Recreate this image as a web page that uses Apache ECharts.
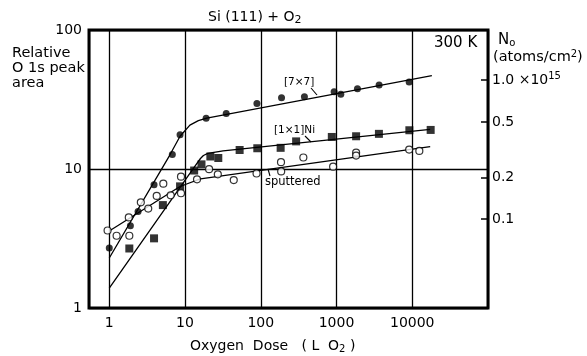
<!DOCTYPE html>
<html><head><meta charset="utf-8">
<script src="https://cdn.jsdelivr.net/npm/echarts@6/dist/echarts.min.js"></script>
<style>html,body{margin:0;padding:0;background:#fff}#c{width:587px;height:356px}</style>
</head><body><div id="c"></div>
<script>
// ---- tick labels ----
const xTickValues = [1, 10, 100, 1000, 10000];
const yTickValues = [1, 10, 100];
const nTickValues = [0.1, 0.2, 0.5, 1.0];
const areaPerN = 43.5; // relative area that corresponds to N0 = 1.0e15 atoms/cm2

// ---- [7x7] (filled circles) ----
const dose7 = [1, 1.9, 2.4, 3.9, 6.8, 8.6, 19, 35, 89, 188, 377, 930, 1140, 1890, 3650, 9100];
const area7 = [2.7, 3.9, 4.95, 7.7, 12.7, 17.6, 23.2, 25.1, 29.6, 32.6, 33.1, 36.0, 34.5, 37.8, 40.2, 42.3];

// ---- [1x1]Ni (filled squares) ----
const dose1 = [1.84, 3.9, 5.1, 8.6, 13.2, 16.5, 21.6, 27.5, 52.6, 90, 183, 293, 867, 1815, 3630, 9160, 17500];
const area1 = [2.68, 3.17, 5.5, 7.5, 9.75, 10.8, 12.3, 12.0, 13.7, 14.1, 14.2, 15.8, 17.0, 17.2, 17.9, 19.0, 19.1];

// ---- sputtered (open circles) ----
const doseS = [0.95, 1.25, 1.84, 1.81, 2.61, 3.27, 4.23, 5.17, 6.47, 8.85, 8.85, 14.4, 20.8, 27.1, 44, 88, 185, 186, 365, 902, 1815, 1815, 9100, 12400];
const areaS = [3.61, 3.31, 3.31, 4.48, 5.76, 5.19, 6.40, 7.84, 6.47, 6.69, 8.80, 8.43, 9.97, 9.16, 8.33, 9.28, 11.2, 9.6, 12.1, 10.4, 13.1, 12.5, 13.8, 13.5];

// ---- fitted curves ----
const fit7Dose = [1, 6.3, 8.6, 11.6, 15, 19.4, 18150];
const fit7Area = [2.29, 12.6, 17.2, 20.7, 22.3, 23.2, 46.9];
const fit1Dose = [1, 12.9, 16, 17.5, 20, 31.8, 17250];
const fit1Area = [1.39, 10.1, 11.9, 12.5, 12.95, 13.5, 19.3];
const fitSDose = [1, 8.6, 10.5, 16, 17250];
const fitSArea = [3.58, 7.48, 7.8, 8.5, 14.5];

const zip = (a, b) => a.map((v, i) => [v, b[i]]);
const FONT = 'DejaVu Sans';
const isPow10 = v => { const l = Math.log10(v); return Math.abs(l - Math.round(l)) < 1e-6; };

const chart = echarts.init(document.getElementById('c'), null, {renderer: 'canvas'});
const lineS = {color: '#000', width: 1.3};
chart.setOption({
  animation: false,
  backgroundColor: '#fff',
  grid: {left: 89, right: 99, top: 30, bottom: 48, show: true, borderColor: '#000', borderWidth: 3, backgroundColor: 'transparent'},
  xAxis: {
    type: 'log', logBase: 10, min: 0.54, max: 100000,
    axisLine: {show: false}, axisTick: {show: false},
    axisLabel: {color: '#000', fontFamily: FONT, fontSize: 14, margin: 8,
      formatter: v => (isPow10(v) && xTickValues.indexOf(Math.round(v)) >= 0) ? String(Math.round(v)) : ''},
    splitLine: {show: true, lineStyle: {color: '#000', width: 1.3}}
  },
  yAxis: [{
    type: 'log', logBase: 10, min: 1, max: 100,
    axisLine: {show: false}, axisTick: {show: false},
    axisLabel: {color: '#000', fontFamily: FONT, fontSize: 14, margin: 7,
      formatter: v => (isPow10(v) && yTickValues.indexOf(Math.round(v)) >= 0) ? String(Math.round(v)) : ''},
    splitLine: {show: true, lineStyle: {color: '#000', width: 1.3}}
  }, {
    type: 'log', logBase: 10, position: 'right', min: 1 / areaPerN, max: 100 / areaPerN,
    axisLine: {show: false},
    axisTick: {show: true, inside: true, length: 7, lineStyle: {color: '#000', width: 1.5}, customValues: nTickValues},
    axisLabel: {color: '#000', fontFamily: FONT, fontSize: 14, margin: 4, customValues: nTickValues,
      formatter: v => v >= 0.99 ? '1.0 ×10{sup|15}' : String(v),
      rich: {sup: {fontSize: 10, verticalAlign: 'top', padding: [0, 0, 8, 0], fontFamily: FONT}}},
    splitLine: {show: false}
  }],
  series: [
    {type: 'line', data: zip(fit7Dose, fit7Area), symbol: 'none', lineStyle: lineS, z: 2},
    {type: 'line', data: zip(fit1Dose, fit1Area), symbol: 'none', lineStyle: lineS, z: 2},
    {type: 'line', data: zip(fitSDose, fitSArea), symbol: 'none', lineStyle: lineS, z: 2},
    {type: 'scatter', data: zip(dose7, area7), symbol: 'circle', symbolSize: 7, itemStyle: {color: '#000'}, z: 3},
    {type: 'scatter', data: zip(dose1, area1), symbol: 'rect', symbolSize: 8, itemStyle: {color: '#000'}, z: 3},
    {type: 'scatter', data: zip(doseS, areaS), symbol: 'circle', symbolSize: 7, itemStyle: {color: '#fff', borderColor: '#000', borderWidth: 1.2}, z: 4}
  ],
  graphic: [
    {type: 'text', left: 208, top: 10, style: {text: 'Si (111) + O{sub|2}', font: '14px "DejaVu Sans"', fill: '#000',
      rich: {sub: {fontSize: 11, padding: [6, 0, 0, 0], fontFamily: FONT}}}},
    {type: 'text', left: 12, top: 46, style: {text: 'Relative\nO 1s peak\narea', font: '14.5px "DejaVu Sans"', lineHeight: 15, fill: '#000'}},
    {type: 'text', left: 434, top: 36, style: {text: '300 K', font: '15px "DejaVu Sans"', fill: '#000'}},
    {type: 'text', left: 498, top: 33, style: {text: 'N{sub|o}', font: '15px "DejaVu Sans"', fill: '#000',
      rich: {sub: {fontSize: 10, padding: [6, 0, 0, 0], fontFamily: FONT}}}},
    {type: 'text', left: 493, top: 49, style: {text: '(atoms/cm{sup|2})', font: '14.5px "DejaVu Sans"', fill: '#000',
      rich: {sup: {fontSize: 10, padding: [0, 0, 7, 0], fontFamily: FONT}}}},
    {type: 'text', left: 284, top: 77, style: {text: '[7×7]', font: '10.5px "DejaVu Sans"', fill: '#000'}},
    {type: 'line', shape: {x1: 311, y1: 88, x2: 317, y2: 95}, style: {stroke: '#000', lineWidth: 1.1}},
    {type: 'text', left: 274, top: 125, style: {text: '[1×1]Ni', font: '10.5px "DejaVu Sans"', fill: '#000'}},
    {type: 'line', shape: {x1: 305, y1: 136, x2: 311, y2: 142}, style: {stroke: '#000', lineWidth: 1.1}},
    {type: 'text', left: 265, top: 176, style: {text: 'sputtered', font: '11.5px "DejaVu Sans"', fill: '#000'}},
    {type: 'line', shape: {x1: 268, y1: 169, x2: 270, y2: 176}, style: {stroke: '#000', lineWidth: 1.1}},
    {type: 'text', left: 190, top: 339, style: {text: 'Oxygen  Dose   ( L  O{sub|2} )', font: '14px "DejaVu Sans"', fill: '#000',
      rich: {sub: {fontSize: 10, padding: [6, 0, 0, 0], fontFamily: FONT}}}}
  ]
});
</script>
</body></html>
